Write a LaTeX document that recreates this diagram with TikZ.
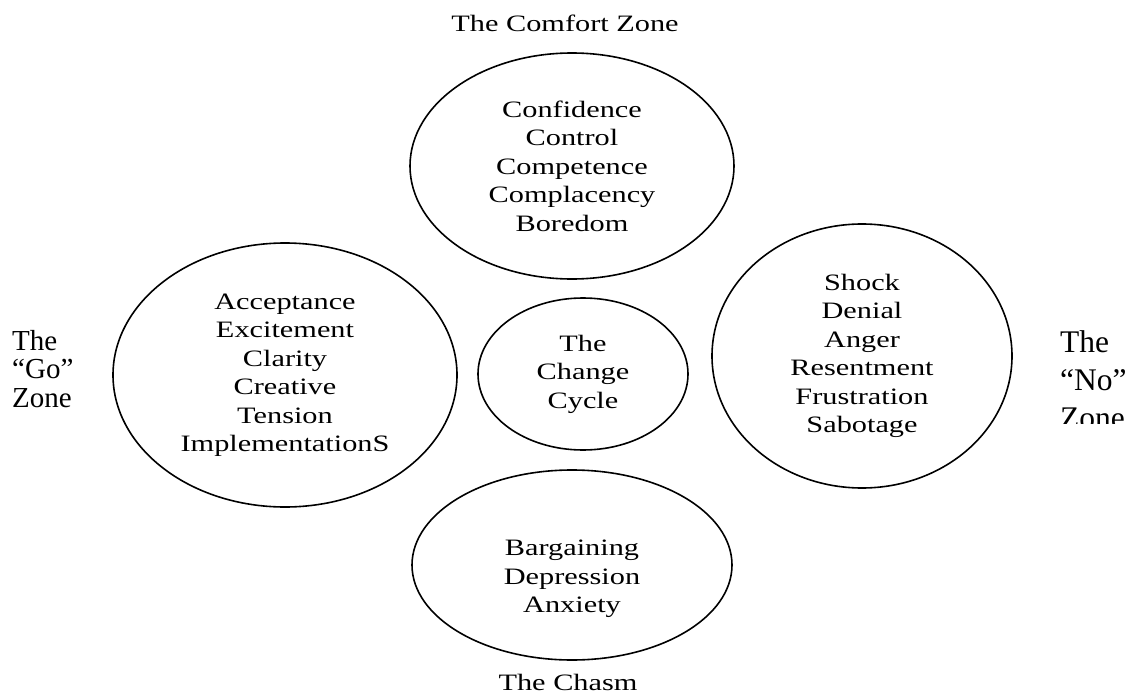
\documentclass[tikz,border=0pt]{standalone}
\usepackage{fontspec}
\setmainfont{Liberation Serif}[FakeStretch=1.29]
\newfontfamily\sidefont{Liberation Serif}
\usetikzlibrary{shapes.geometric}
\tikzstyle{zone} = [ellipse, draw=black, line width=1.6pt, align=center, inner sep=0pt, font=\fontsize{23.5}{28.5}\selectfont]
\tikzstyle{zonelabel} = [align=center, inner sep=0pt, font=\fontsize{23.5}{28.5}\selectfont]
\tikzstyle{sidelabel} = [align=left, inner sep=0pt, anchor=north west]

\begin{document}
\begin{tikzpicture}[x=1pt, y=-1pt]
\useasboundingbox (0,0) rectangle (1141,693);
\node (comfortlabel) [zonelabel] at (565,23) {The Comfort Zone};
\node (comfort) [zone, minimum width=324pt, minimum height=226pt] at (572,166) {Confidence\\Control\\Competence\\Complacency\\Boredom};
\node (go) [zone, minimum width=344pt, minimum height=264pt] at (285,375) {Acceptance\\Excitement\\Clarity\\Creative\\Tension\\ImplementationS};
\node (cycle) [zone, minimum width=210pt, minimum height=152pt] at (583,374) {The\\Change\\Cycle};
\node (no) [zone, minimum width=300pt, minimum height=264pt] at (862,356) {Shock\\Denial\\Anger\\Resentment\\Frustration\\Sabotage};
\node (chasm) [zone, minimum width=320pt, minimum height=190pt, text height=101pt] at (572,565) {Bargaining\\Depression\\Anxiety};
\node (chasmlabel) [zonelabel] at (568,682) {The Chasm};
\node (golabel) [sidelabel, font=\sidefont\fontsize{29}{28.5}\selectfont] at (12,330) {The\\“Go”\\Zone};
\begin{scope}
\clip (1000,300) rectangle (1141,423);
\node (nolabel) [sidelabel, font=\sidefont\fontsize{31.5}{38}\selectfont] at (1060,330) {The\\“No”\\Zone};
\end{scope}
\end{tikzpicture}
\end{document}
